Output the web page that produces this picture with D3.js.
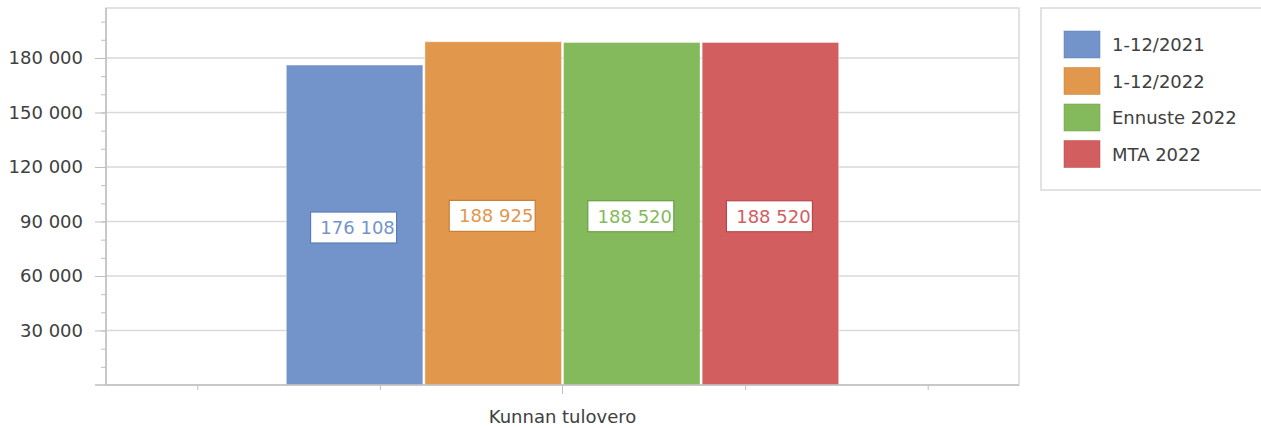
<!DOCTYPE html>
<html>
<head>
<meta charset="utf-8">
<script src="https://cdn.jsdelivr.net/npm/d3@7"></script>
<style>
  body { margin: 0; background: #fff; }
  text { font-family: "DejaVu Sans", sans-serif; }
</style>
</head>
<body>
<div id="chart"></div>
<script>
// data
var categories = ["Kunnan tulovero"];
var seriesNames = ["1-12/2021", "1-12/2022", "Ennuste 2022", "MTA 2022"];
var seriesValues = [176108, 188925, 188520, 188520];
var seriesColors = ["#7394cb", "#e1974c", "#84ba5b", "#d35e60"];
var labelBorders = ["#5a7bb5", "#c97d35", "#6a9f45", "#b94749"];
var yTicks = [30000, 60000, 90000, 120000, 150000, 180000];

var w = 1261, h = 428;
var plot = { left: 106, right: 1019, top: 8, bottom: 385 };

var svg = d3.select("#chart").append("svg")
  .attr("width", w).attr("height", h);

var y = d3.scaleLinear()
  .domain([0, 207500])
  .range([plot.bottom, plot.top]);

var x = d3.scaleBand()
  .domain(categories)
  .range([plot.left, plot.right]);

// group occupies ~60% of the category band
var groupW = x.bandwidth() * 0.605;
var xs = d3.scaleBand()
  .domain(seriesNames)
  .range([-groupW / 2, groupW / 2])
  .paddingInner(0.015);

var loc = d3.formatLocale({ decimal: ",", thousands: "\u00a0", grouping: [3], currency: ["", " €"] });
var fmt = loc.format(",");

// plot frame (top/right)
svg.append("rect")
  .attr("x", plot.left).attr("y", plot.top)
  .attr("width", plot.right - plot.left)
  .attr("height", plot.bottom - plot.top)
  .attr("fill", "none")
  .attr("stroke", "#d9d9d9")
  .attr("stroke-width", 1.5);

// gridlines
svg.append("g")
  .selectAll("line")
  .data(yTicks)
  .enter().append("line")
  .attr("x1", plot.left).attr("x2", plot.right)
  .attr("y1", function(d) { return y(d); })
  .attr("y2", function(d) { return y(d); })
  .attr("stroke", "#d9d9d9")
  .attr("stroke-width", 1.5);

// minor y ticks
var minor = d3.range(10000, 207500, 10000);
svg.append("g")
  .attr("transform", "translate(" + plot.left + ",0)")
  .call(d3.axisLeft(y).tickValues(minor).tickSize(5).tickFormat(""))
  .call(function(g) { g.select(".domain").remove(); })
  .selectAll("line").attr("stroke", "#bfbfbf");

// major y axis
var yAxis = svg.append("g")
  .attr("transform", "translate(" + plot.left + ",0)")
  .call(d3.axisLeft(y).tickValues(yTicks).tickSize(11).tickPadding(12)
    .tickFormat(function(d) { return fmt(d); }));
yAxis.select(".domain").attr("stroke", "#bfbfbf").attr("stroke-width", 1.5)
  .attr("d", "M0," + plot.bottom + "V" + plot.top);
yAxis.selectAll("line").attr("stroke", "#bfbfbf");
yAxis.selectAll("text")
  .attr("fill", "#404040")
  .style("font-size", "18px")
  .style("font-family", "'DejaVu Sans', sans-serif");

// bars
var bars = svg.append("g");
bars.selectAll("rect")
  .data(seriesValues)
  .enter().append("rect")
  .attr("x", function(d, i) { return x(categories[0]) + x.bandwidth() / 2 + xs(seriesNames[i]); })
  .attr("y", function(d) { return y(d); })
  .attr("width", xs.bandwidth())
  .attr("height", function(d) { return y(0) - y(d); })
  .attr("fill", function(d, i) { return seriesColors[i]; })
  .attr("stroke", "#ffffff")
  .attr("stroke-opacity", 0.4)
  .attr("stroke-width", 1);

// x axis
var xMinor = d3.scaleLinear().domain([0, 1]).range([plot.left, plot.right]);
var xm = svg.append("g")
  .attr("transform", "translate(0," + plot.bottom + ")")
  .call(d3.axisBottom(xMinor).tickValues([0.1, 0.3, 0.7, 0.9]).tickSize(5).tickFormat(""));
xm.select(".domain").remove();
xm.selectAll("line").attr("stroke", "#bfbfbf");

var xAxis = svg.append("g")
  .attr("transform", "translate(0," + plot.bottom + ")")
  .call(d3.axisBottom(x).tickSize(9).tickPadding(16));
xAxis.select(".domain").attr("stroke", "#bfbfbf").attr("stroke-width", 1.5)
  .attr("d", "M" + (plot.left - 11) + ",0H" + plot.right);
xAxis.selectAll("line").attr("stroke", "#bfbfbf");
xAxis.selectAll("text")
  .attr("fill", "#404040")
  .style("font-size", "18px")
  .style("font-family", "'DejaVu Sans', sans-serif");

// data labels
var labels = svg.append("g");
seriesValues.forEach(function(v, i) {
  var cx = x(categories[0]) + x.bandwidth() / 2 + xs(seriesNames[i]) + xs.bandwidth() / 2;
  var cy = (y(v) + y(0)) / 2 + 2;
  labels.append("rect")
    .attr("x", cx - 44).attr("y", cy - 15)
    .attr("width", 86).attr("height", 31)
    .attr("fill", "#ffffff")
    .attr("stroke", labelBorders[i])
    .attr("stroke-width", 1.2);
  labels.append("text")
    .attr("x", cx + 3).attr("y", cy + 7)
    .attr("text-anchor", "middle")
    .attr("fill", seriesColors[i])
    .style("font-size", "18px")
    .text(fmt(v));
});

// legend
var legend = svg.append("g");
legend.append("rect")
  .attr("x", 1041).attr("y", 8)
  .attr("width", 240).attr("height", 182)
  .attr("fill", "#ffffff")
  .attr("stroke", "#d9d9d9")
  .attr("stroke-width", 1.5);

var items = legend.selectAll("g.item")
  .data(seriesNames)
  .enter().append("g")
  .attr("class", "item")
  .attr("transform", function(d, i) { return "translate(1064," + (31 + i * 36.5) + ")"; });
items.append("rect")
  .attr("width", 36).attr("height", 27)
  .attr("fill", function(d, i) { return seriesColors[i]; })
  .attr("stroke", function(d, i) { return labelBorders[i]; })
  .attr("stroke-opacity", 0.5);
items.append("text")
  .attr("x", 48).attr("y", 20)
  .attr("fill", "#404040")
  .style("font-size", "18px")
  .text(function(d) { return d; });
</script>
</body>
</html>
